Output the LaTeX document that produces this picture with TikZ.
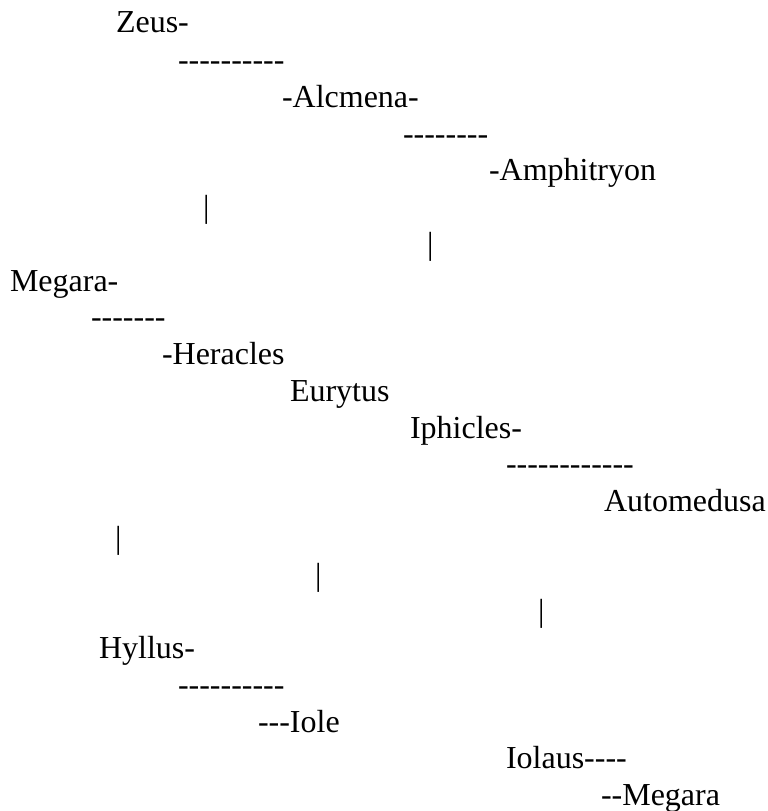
\documentclass[tikz,border=0pt]{standalone}
\usepackage{fontspec}
\setmainfont{Liberation Serif}[Ligatures=TeXOff]
\usepackage{tikz}

\begin{document}
\begin{tikzpicture}[
    x=1pt, y=-1pt,
    txt/.style={anchor=base west, inner sep=0pt, outer sep=0pt, font=\fontsize{32}{36.8}\selectfont}
]
\useasboundingbox (0,0) rectangle (768,811);

\node[txt] (zeus) at (116,32.5) {Zeus-};
\node[txt] (dz) at (178,70) {----------};
\node[txt] (alcmena) at (282,107) {-Alcmena-};
\node[txt] (da) at (403,144) {--------};
\node[txt] (amphitryon) at (489,180.5) {-Amphitryon};
\node[txt] (barA) at (203,217) {|};
\node[txt] (barB) at (427,254) {|};
\node[txt] (megaraA) at (10,291) {Megara-};
\node[txt] (dm) at (91,327.5) {-------};
\node[txt] (heracles) at (162,364) {-Heracles};
\node[txt] (eurytus) at (290,401) {Eurytus};
\node[txt] (iphicles) at (410,438) {Iphicles-};
\node[txt] (di) at (506,474.5) {------------};
\node[txt] (automedusa) at (604,511) {Automedusa};
\node[txt] (barC) at (115,548) {|};
\node[txt] (barD) at (315,585) {|};
\node[txt] (barE) at (538,621.5) {|};
\node[txt] (hyllus) at (99,658.5) {Hyllus-};
\node[txt] (dh) at (178,695) {----------};
\node[txt] (iole) at (258,732) {---Iole};
\node[txt] (iolaus) at (506,768.5) {Iolaus----};
\node[txt] (megaraB) at (601,805) {--Megara};
\end{tikzpicture}
\end{document}
